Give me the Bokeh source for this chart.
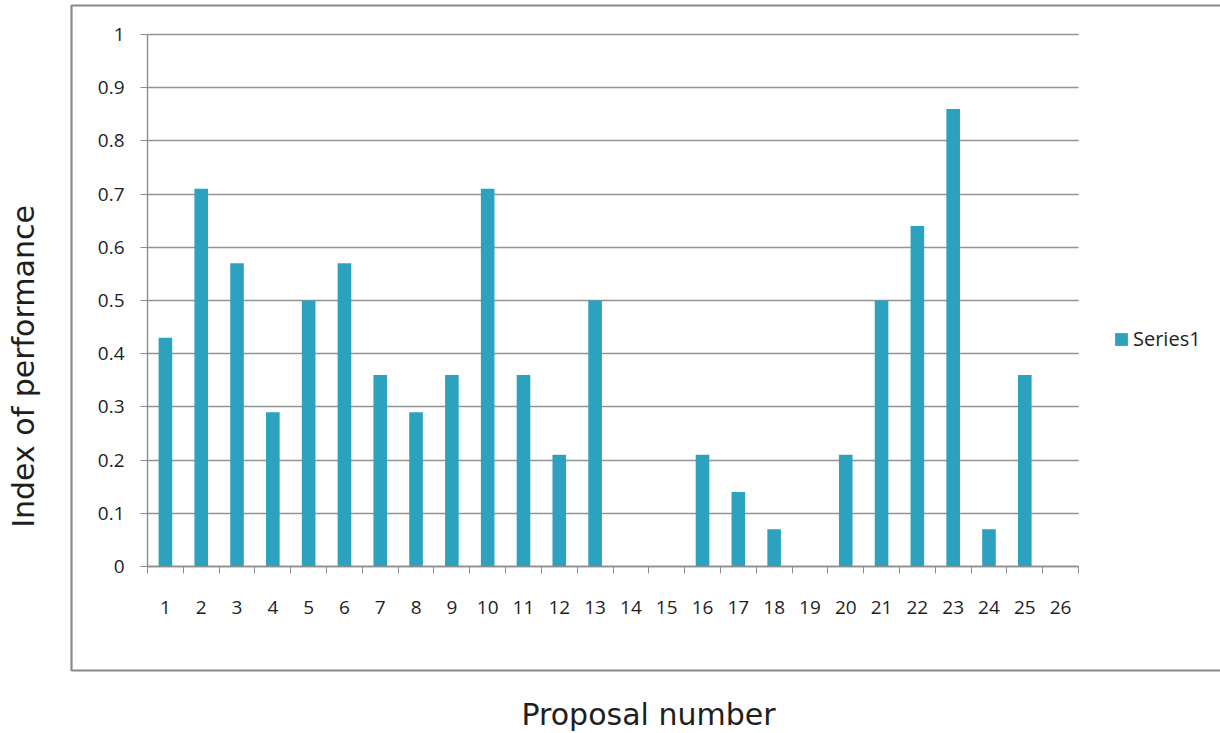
import math

from bokeh.embed import file_html
from bokeh.models import (BoxAnnotation, ColumnDataSource, FixedTicker, Label,
                          Legend, LegendItem, Range1d)
from bokeh.plotting import figure
from bokeh.resources import INLINE

# ---- data -------------------------------------------------------------
proposals = list(range(1, 27))
performance = [0.43, 0.71, 0.57, 0.29, 0.50, 0.57, 0.36, 0.29, 0.36, 0.71,
               0.36, 0.21, 0.50, 0.0, 0.0, 0.21, 0.14, 0.07, 0.0, 0.21,
               0.50, 0.64, 0.86, 0.07, 0.36, 0.0]
x_tick_labels = [str(n) for n in proposals]
y_ticks = [0, 0.1, 0.2, 0.3, 0.4, 0.5, 0.6, 0.7, 0.8, 0.9, 1]
y_tick_labels = ["0", "0.1", "0.2", "0.3", "0.4", "0.5", "0.6", "0.7",
                 "0.8", "0.9", "1"]
series_name = "Series1"
x_title = "Proposal number"
y_title = "Index of performance"

# ---- style / layout ---------------------------------------------------
BAR = "#2ca2bf"
GRID = "#939393"
AXIS = "#8c8c8c"
BORDER = "#8a8a8a"
TEXT = "#1e1e1e"
TICK_FONT = "Open Sans"
TITLE_FONT = "DejaVu Sans"

W, H = 1220, 733
# pixel box of the value area inside the canvas
P_LEFT, P_RIGHT, P_TOP, P_BOTTOM = 147, 1078, 34, 566

X_LO, X_HI = 0.5, len(proposals) + 0.5
Y_LO, Y_HI = 0.0, 1.0
px_x = (P_RIGHT - P_LEFT) / (X_HI - X_LO)
px_y = (P_BOTTOM - P_TOP) / (Y_HI - Y_LO)

# the frame covers the whole canvas; axes are pinned inside it
x_range = Range1d(X_LO - P_LEFT / px_x, X_HI + (W - P_RIGHT) / px_x)
y_range = Range1d(Y_LO - (H - P_BOTTOM) / px_y, Y_HI + P_TOP / px_y)


def sy(cy):
    """canvas y (from top) -> screen y measured up from the frame bottom"""
    return H - cy


source = ColumnDataSource(data=dict(x=proposals, y=performance))

p = figure(width=W, height=H, x_range=x_range, y_range=y_range,
           output_backend="svg", toolbar_location=None,
           min_border=0, min_border_left=0, min_border_right=0,
           min_border_top=0, min_border_bottom=0)
p.outline_line_color = None
p.background_fill_color = "white"
p.border_fill_color = "white"

bars = p.vbar(x="x", top="y", width=0.38, source=source,
              fill_color=BAR, line_color=None)

# grid
p.xgrid.visible = False
p.ygrid.ticker = FixedTicker(ticks=y_ticks)
p.ygrid.grid_line_color = GRID
p.ygrid.grid_line_width = 1.4
p.ygrid.bounds = (Y_LO, Y_HI)
p.ygrid.cross_bounds = (X_LO, X_HI)

# x axis: labels at bar centres, tick marks between categories
xa = p.xaxis[0]
xa.fixed_location = Y_LO
xa.bounds = (X_LO, X_HI)
xa.ticker = FixedTicker(ticks=proposals,
                        minor_ticks=[n - 0.5 for n in proposals] + [X_HI])
xa.major_label_overrides = {n: lbl for n, lbl in zip(proposals, x_tick_labels)}
xa.major_tick_line_color = None
xa.major_tick_out = 0
xa.major_tick_in = 0
xa.minor_tick_line_color = AXIS
xa.minor_tick_out = 7
xa.minor_tick_in = 0
xa.axis_line_color = AXIS
xa.axis_line_width = 1.4
xa.major_label_standoff = 27
xa.major_label_text_font = TICK_FONT
xa.major_label_text_font_size = "19px"
xa.major_label_text_color = TEXT

# y axis
ya = p.yaxis[0]
ya.fixed_location = X_LO
ya.bounds = (Y_LO, Y_HI)
ya.ticker = FixedTicker(ticks=y_ticks)
ya.major_label_overrides = {v: lbl for v, lbl in zip(y_ticks, y_tick_labels)}
ya.minor_tick_line_color = None
ya.major_tick_line_color = AXIS
ya.major_tick_out = 7
ya.major_tick_in = 0
ya.axis_line_color = AXIS
ya.axis_line_width = 1.4
ya.major_label_standoff = 16
ya.major_label_text_font = TICK_FONT
ya.major_label_text_font_size = "19px"
ya.major_label_text_color = TEXT

# chart-area border (open on the right, beyond the canvas)
p.add_layout(BoxAnnotation(left=71, right=W + 12, top=sy(5), bottom=sy(670),
                           left_units="screen", right_units="screen",
                           top_units="screen", bottom_units="screen",
                           fill_alpha=0, line_color=BORDER, line_alpha=1.0,
                           line_width=2.2, level="overlay"))

# axis titles
p.add_layout(Label(x=648, y=sy(714), x_units="screen", y_units="screen",
                   text=x_title, text_align="center", text_baseline="middle",
                   text_font=TITLE_FONT, text_font_size="30px",
                   text_color=TEXT))
p.add_layout(Label(x=23, y=sy(366), x_units="screen", y_units="screen",
                   text=y_title, angle=math.pi / 2,
                   text_align="center", text_baseline="middle",
                   text_font=TITLE_FONT, text_font_size="30px",
                   text_color=TEXT))

# legend
legend = Legend(items=[LegendItem(label=series_name, renderers=[bars])],
                location=(1113, sy(352)),
                glyph_width=16, glyph_height=16, label_standoff=4,
                label_text_font=TICK_FONT, label_text_font_size="20px",
                label_text_color=TEXT, padding=0, margin=0, spacing=0,
                border_line_color=None, background_fill_alpha=0)
p.add_layout(legend)

open("out.html", "w").write(file_html(p, INLINE))
